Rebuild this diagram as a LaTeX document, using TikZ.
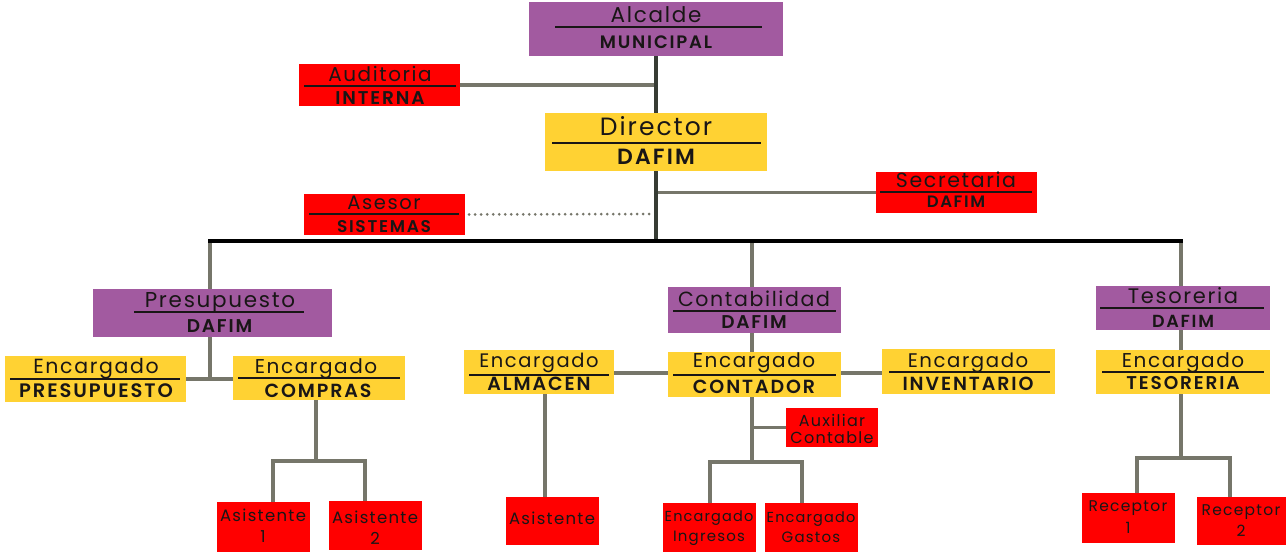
\documentclass[tikz,border=0pt]{standalone}
\usepackage{fontspec}
\setmainfont{Poppins}
\newfontfamily\popf[LetterSpace=8]{Poppins}
\newfontfamily\popb[LetterSpace=10]{Poppins SemiBold}
\usetikzlibrary{calc}
\definecolor{purp}{RGB}{162,90,160}
\definecolor{yel}{RGB}{255,210,51}
\definecolor{redb}{RGB}{255,0,0}
\definecolor{lgray}{RGB}{118,118,106}
\definecolor{dgray}{RGB}{55,60,52}
\definecolor{txt}{RGB}{25,22,22}
\tikzset{
  box/.style={draw=none, inner sep=0, minimum width=#1},
  pbox/.style={box=#1, fill=purp},
  ybox/.style={box=#1, fill=yel},
  rbox/.style={box=#1, fill=redb},
  T/.style={anchor=base, inner sep=0, text=txt, font=\popf\fontsize{#1}{#1}\selectfont},
  B/.style={anchor=base, inner sep=0, text=txt, font=\popb\fontsize{#1}{#1}\selectfont},
  uline/.style={draw=txt, line width=2pt},
  conn/.style={draw=lgray, line width=3.5pt},
  dconn/.style={draw=dgray, line width=3.5pt},
  busline/.style={draw=black, line width=3.5pt},
  dotline/.style={draw=lgray, line width=3pt, line cap=round, dash pattern=on 0pt off 6pt},
}
\begin{document}
\begin{tikzpicture}[x=1pt,y=-1pt]
\useasboundingbox (0,0) rectangle (1286,552);
% ---------- boxes
\node[pbox=254, minimum height=54] (alc) at (656,29) {};
\node[rbox=161, minimum height=42] (aud) at (379.5,85) {};
\node[ybox=222, minimum height=58] (dir) at (656,142) {};
\node[rbox=161, minimum height=41] (sec) at (956.5,192.5) {};
\node[rbox=161, minimum height=41] (ase) at (384.5,214.5) {};
\node[pbox=239, minimum height=48] (pre) at (212.5,313) {};
\node[pbox=173, minimum height=46] (con) at (754.5,310) {};
\node[pbox=174, minimum height=44] (tes) at (1183,308) {};
\node[ybox=181, minimum height=46] (epr) at (95.5,379) {};
\node[ybox=172, minimum height=44] (eco) at (319,378) {};
\node[ybox=150, minimum height=44] (alm) at (539,372) {};
\node[ybox=173, minimum height=45] (ctd) at (754.5,374.5) {};
\node[ybox=173, minimum height=45] (inv) at (968.5,371.5) {};
\node[ybox=174, minimum height=44] (ete) at (1183,372) {};
\node[rbox=92, minimum height=39] (aux) at (832,427.5) {};
\node[rbox=93, minimum height=50] (as1) at (263.5,527) {};
\node[rbox=93, minimum height=49] (as2) at (375.5,525.5) {};
\node[rbox=93, minimum height=48] (asm) at (552.5,521) {};
\node[rbox=93, minimum height=49] (ing) at (709.5,527.5) {};
\node[rbox=93, minimum height=49] (gas) at (811.5,527.5) {};
\node[rbox=93, minimum height=50] (rc1) at (1128.5,518) {};
\node[rbox=89, minimum height=48] (rc2) at (1241.5,521) {};
% ---------- texts
\node[T=21.5] (t1) at (656,22) {Alcalde};
\draw[uline] (555,27) -- (762,27);
\node[B=18] (b1) at (656,48) {MUNICIPAL};
\node[T=20] (t2) at (380,81) {Auditoria};
\draw[uline] (304,85.5) -- (456,85.5);
\node[B=18.5] (b2) at (380,104) {INTERNA};
\node[T=25] (t3) at (656,135) {Director};
\draw[uline] (552,143) -- (761,143);
\node[B=22] (b3) at (656,164) {DAFIM};
\node[T=20.5] (t4) at (956,187) {Secretaria};
\draw[uline] (880,192) -- (1032,192);
\node[B=16.5] (b4) at (956,207) {DAFIM};
\node[T=19.5] (t5) at (384,209) {Asesor};
\draw[uline] (309,214) -- (459,214);
\node[B=17] (b5) at (384,232) {SISTEMAS};
\node[T=21.5] (t6) at (220,307) {Presupuesto};
\draw[uline] (134,312) -- (304,312);
\node[B=18.5] (b6) at (219.5,332) {DAFIM};
\node[T=20.5] (t7) at (754,306) {Contabilidad};
\draw[uline] (673,311) -- (836,311);
\node[B=18.5] (b7) at (754,328) {DAFIM};
\node[T=21] (t8) at (1183,303) {Tesoreria};
\draw[uline] (1100,307.5) -- (1264,307.5);
\node[B=17.5] (b8) at (1183,327) {DAFIM};
\node[T=20.5] (t9) at (96,373) {Encargado};
\draw[uline] (10,379) -- (180,379);
\node[B=19.5] (b9) at (96,397) {PRESUPUESTO};
\node[T=20] (t10) at (316,373) {Encargado};
\draw[uline] (238,378) -- (400,378);
\node[B=19] (b10) at (318,397) {COMPRAS};
\node[T=19.5] (t11) at (539,367) {Encargado};
\draw[uline] (469,375) -- (609,375);
\node[B=19] (b11) at (539,390) {ALMACEN};
\node[T=20] (t12) at (754,367) {Encargado};
\draw[uline] (673,374.5) -- (836,374.5);
\node[B=19] (b12) at (754,393) {CONTADOR};
\node[T=19.7] (t13) at (968,367) {Encargado};
\draw[uline] (889,371.5) -- (1050,371.5);
\node[B=19] (b13) at (968,390) {INVENTARIO};
\node[T=20] (t14) at (1183,367) {Encargado};
\draw[uline] (1102,372) -- (1264,372);
\node[B=18.5] (b14) at (1183,389) {TESORERIA};
\node[T=16] (t15) at (832,426) {Auxiliar};
\node[T=16] (t15b) at (832,443) {Contable};
\node[T=16.5] (t16) at (263,521) {Asistente};
\node[T=16.5] (t16b) at (263,542) {1};
\node[T=16.5] (t17) at (375,523) {Asistente};
\node[T=16.5] (t17b) at (375,544) {2};
\node[T=16.5] (t18) at (552,524) {Asistente};
\node[T=14.5] (t19) at (709,521) {Encargado};
\node[T=15] (t19b) at (709,541) {Ingresos};
\node[T=14.5] (t20) at (811,522) {Encargado};
\node[T=15] (t20b) at (811,542) {Gastos};
\node[T=15.5] (t21) at (1128,511) {Receptor};
\node[T=15.5] (t21b) at (1128,533) {1};
\node[T=15.5] (t22) at (1241,515) {Receptor};
\node[T=15.5] (t22b) at (1241,536) {2};
% ---------- junction coordinates
\coordinate (busL) at (208,241);
\coordinate (busR) at (1183,241);
\coordinate (bc) at (656,241);
\coordinate (bp) at (210,241);
\coordinate (bk) at (752,241);
\coordinate (bt) at (1181,241);
\coordinate (jp) at (210,379);
\coordinate (jc) at (316,461);
\coordinate (k1) at (273,461);
\coordinate (k2) at (365,461);
\coordinate (ka) at (545,461);
\coordinate (jk) at (752,462);
\coordinate (jx) at (752,427.5);
\coordinate (k3) at (710,462);
\coordinate (k4) at (802,462);
\coordinate (jt) at (1181,458);
\coordinate (k5) at (1137,458);
\coordinate (k6) at (1230,458);
\coordinate (dt) at (650,214);
\coordinate (hy) at (0,373);
% ---------- connectors
\draw[conn] (aud.east) -- (aud.east -| alc.south);
\draw[conn] (sec.west) -- (sec.west -| dir.south);
\draw[dotline] ([xshift=4pt]ase.east) -- (dt);
\draw[dconn] (alc.south) -- (dir.north);
\draw[dconn] (dir.south) -- (bc);
\draw[conn] (bp) -- (bp |- pre.north);
\draw[conn] (bk) -- (bk |- con.north);
\draw[conn] (bt) -- (bt |- tes.north);
\draw[busline] (busL) -- (busR);
\draw[conn] (jp |- pre.south) -- (jp);
\draw[conn] (epr.east |- jp) -- (eco.west |- jp);
\draw[conn] (jc |- eco.south) -- (jc);
\draw[conn] (k1 |- as1.north) -- (k1) -- (k2) -- (k2 |- as2.north);
\draw[conn] (bk |- con.south) -- (bk |- ctd.north);
\draw[conn] (alm.east |- hy) -- (ctd.west |- hy);
\draw[conn] (ctd.east |- hy) -- (inv.west |- hy);
\draw[conn] (ka |- alm.south) -- (ka |- asm.north);
\draw[conn] (jk |- ctd.south) -- (jk);
\draw[conn] (jx) -- (aux.west);
\draw[conn] (k3 |- ing.north) -- (k3) -- (k4) -- (k4 |- gas.north);
\draw[conn] (bt |- tes.south) -- (bt |- ete.north);
\draw[conn] (jt |- ete.south) -- (jt);
\draw[conn] (k5 |- rc1.north) -- (k5) -- (k6) -- (k6 |- rc2.north);
\end{tikzpicture}
\end{document}
